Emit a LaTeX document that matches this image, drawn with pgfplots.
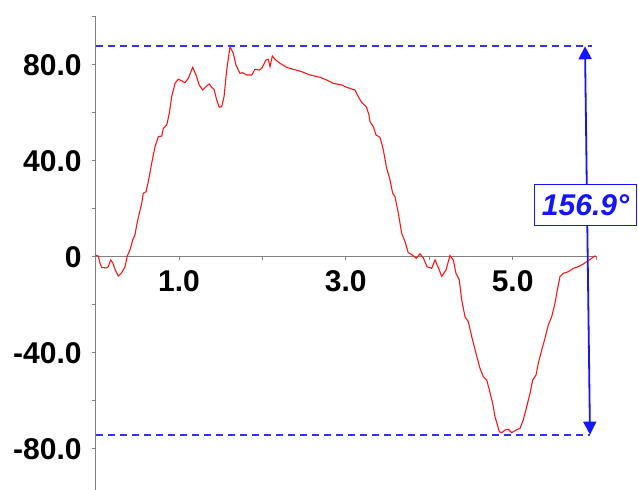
\documentclass[border=0pt]{standalone}
\usepackage{fontspec}
\setmainfont{Liberation Sans}
\usepackage{pgfplots}
\pgfplotsset{compat=1.18}
\usetikzlibrary{arrows.meta}
\definecolor{axgray}{RGB}{128,128,128}
\definecolor{dashblue}{RGB}{50,50,255}
\definecolor{arrblue}{RGB}{20,20,255}
\definecolor{curvered}{RGB}{255,20,20}
\begin{document}
\begin{tikzpicture}
\begin{axis}[
  x=83.4bp, y=2.402bp,
  anchor=origin, at={(0,0)},
  xmin=0, xmax=6, ymin=-97.5, ymax=100,
  axis x line=middle, axis y line=left,
  axis line style={-, axgray, line width=0.9bp},
  hide obscured x ticks=false, hide obscured y ticks=false,
  tick align=outside,
  major tick length=4bp,
  tick style={axgray, line width=0.9bp},
  xtick={1,2,3,4,5,6},
  xticklabels={1.0,,3.0,,5.0,},
  ytick={-80,-60,...,100},
  yticklabels={-80.0,,-40.0,,0,,40.0,,80.0,},
  tick label style={font=\fontsize{30bp}{36bp}\selectfont\bfseries, inner sep=0pt},
  xticklabel style={anchor=north, yshift=-9.8bp},
  yticklabel style={anchor=east, xshift=-9.8bp, yshift=-1bp},
  clip=false,
]
\addplot[curvered, line width=1.1bp] coordinates {
(0.000,0.4) (0.032,0.08) (0.053,-2.96) (0.073,-4.62) (0.125,-4.91) (0.152,-4.37)
(0.181,-1.58) (0.205,-2.71) (0.233,-5.45) (0.272,-8.24) (0.313,-6.87) (0.353,-4.37)
(0.380,0.08) (0.412,2.58) (0.445,6.74) (0.472,8.83) (0.493,12.99) (0.524,17.86)
(0.553,22.02) (0.572,26.19) (0.604,26.85) (0.632,31.02) (0.673,38.80) (0.712,45.46)
(0.752,49.75) (0.793,50.04) (0.812,53.25) (0.853,54.62) (0.884,59.49) (0.912,66.40)
(0.952,71.98) (0.992,73.65) (1.032,73.06) (1.072,72.23) (1.112,74.06) (1.164,78.64)
(1.204,75.44) (1.243,71.27) (1.284,69.19) (1.332,70.86) (1.363,71.69) (1.392,70.32)
(1.420,69.48) (1.452,65.03) (1.483,61.99) (1.512,62.24) (1.540,66.40) (1.572,77.52)
(1.612,87.3) (1.651,84.47) (1.683,79.60) (1.731,76.14) (1.764,76.39) (1.812,75.44)
(1.872,75.44) (1.911,77.81) (1.963,77.52) (1.992,78.23) (2.043,81.68) (2.071,81.97)
(2.091,78.89) (2.119,83.35) (2.151,81.97) (2.211,80.31) (2.291,78.64) (2.371,77.81)
(2.471,76.81) (2.571,75.44) (2.691,74.48) (2.771,73.36) (2.850,71.98) (2.951,71.27)
(3.011,70.32) (3.110,69.19) (3.150,66.40) (3.191,63.99) (3.248,62.11) (3.278,58.78)
(3.290,55.99) (3.330,53.91) (3.362,50.46) (3.410,49.50) (3.450,44.21) (3.490,36.59)
(3.530,31.72) (3.562,26.19) (3.590,24.77) (3.630,17.86) (3.670,9.53) (3.710,6.04)
(3.749,1.46) (3.790,0.71) (3.845,-0.87) (3.890,1.00) (3.929,-0.67) (3.974,-4.37)
(4.030,-5.04) (4.070,-1.58) (4.109,-4.70) (4.150,-8.37) (4.201,-5.75) (4.243,-0.54)
(4.249,0.29) (4.289,-1.58) (4.321,-7.12) (4.361,-9.91) (4.390,-18.23) (4.429,-25.19)
(4.469,-27.27) (4.510,-33.51) (4.561,-40.42) (4.609,-46.67) (4.649,-50.17) (4.690,-51.54)
(4.721,-55.70) (4.761,-61.24) (4.789,-66.82) (4.841,-73.06) (4.869,-73.48) (4.909,-72.36)
(4.948,-72.06) (4.989,-73.48) (5.041,-72.36) (5.089,-71.65) (5.128,-68.19) (5.169,-62.66)
(5.209,-57.08) (5.241,-51.54) (5.281,-49.46) (5.308,-44.59) (5.349,-39.05) (5.388,-34.18)
(5.428,-28.64) (5.469,-25.19) (5.508,-19.61) (5.536,-14.07) (5.568,-8.53) (5.608,-7.12)
(5.668,-6.45) (5.728,-5.04) (5.788,-4.37) (5.848,-3.25) (5.888,-2.29) (5.948,-0.87)
(5.988,0.08) (6.000,-0.1)
};
\addplot[dashblue, line width=1.8bp, dash pattern=on 7.5bp off 4.5bp] coordinates {(0,87.4) (5.948,87.4)};
\addplot[dashblue, line width=1.8bp, dash pattern=on 7.5bp off 4.5bp] coordinates {(0,-74.3) (5.928,-74.3)};
\addplot[arrblue, line width=1.8bp, {Triangle[length=13bp,width=13bp]}-{Triangle[length=13bp,width=13bp]}] coordinates {(5.868,87.4) (5.928,-74.3)};
\node[draw=arrblue, line width=1.5bp, fill=white, text=arrblue, minimum width=102bp, minimum height=41bp, inner sep=0pt, font=\fontsize{30bp}{36bp}\selectfont\bfseries\itshape] at (axis cs:5.874,21.4) {156.9°};
\end{axis}
\pgfresetboundingbox
\path[use as bounding box] (-95.6bp,-233.8bp) rectangle (542.4bp,256.2bp);
\end{tikzpicture}
\end{document}
